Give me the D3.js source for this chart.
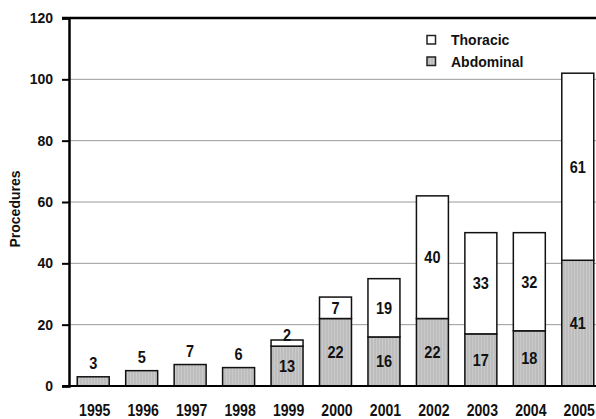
<!DOCTYPE html>
<html>
<head>
<meta charset="utf-8">
<script src="https://cdn.jsdelivr.net/npm/d3@7"></script>
<style>
  html, body { margin: 0; padding: 0; background: #fff; }
  svg { display: block; }
  .lbl { font-family: "Liberation Sans", Arial, sans-serif; font-weight: bold; }
  .reg { font-family: "Liberation Sans", Arial, sans-serif; font-weight: bold; }
</style>
</head>
<body>
<svg id="chart" width="596" height="419"></svg>
<script>
// Procedures per year, split by abdominal and thoracic
const years = ["1995", "1996", "1997", "1998", "1999", "2000", "2001", "2002", "2003", "2004", "2005"];
const abdominal = [3, 5, 7, 6, 13, 22, 16, 22, 17, 18, 41];
const thoracic = [0, 0, 0, 0, 2, 7, 19, 40, 33, 32, 61];
const yTicks = [0, 20, 40, 60, 80, 100, 120];
const seriesNames = ["Thoracic", "Abdominal"];

const svg = d3.select("#chart");
const W = 596, H = 419;

const x = d3.scaleBand().domain(years).range([69, 602]).paddingInner(0.34).paddingOuter(0.17);
const y = d3.scaleLinear().domain([0, 120]).range([386, 18]);

// condensed bold label: horizontally squeezed text anchored at (cx, by)
function narrowText(g, cx, by, str, size) {
  return g.append("text")
    .attr("class", "lbl").attr("font-size", size).attr("text-anchor", "middle").attr("fill", "#111")
    .attr("transform", `translate(${cx},${by}) scale(0.88,1)`).text(str);
}

// light vertical hatching for the grey segments
const defs = svg.append("defs");
const pat = defs.append("pattern").attr("id", "greyfill")
  .attr("patternUnits", "userSpaceOnUse").attr("width", 3).attr("height", 4);
pat.append("rect").attr("width", 3).attr("height", 4).attr("fill", "#bdbdbd");
pat.append("rect").attr("x", 1).attr("width", 1).attr("height", 4).attr("fill", "#cacaca");

// grid lines
svg.append("g").selectAll("line").data(yTicks.filter(d => d > 0 && d < 120)).join("line")
  .attr("x1", 69).attr("x2", W).attr("y1", d => y(d)).attr("y2", d => y(d))
  .attr("stroke", "#9a9a9a").attr("stroke-width", 1);

// top frame line
svg.append("line").attr("x1", 62).attr("x2", W).attr("y1", y(120)).attr("y2", y(120))
  .attr("stroke", "#000").attr("stroke-width", 2.5);

// stacked bars
const rows = years.map((yr, i) => ({ year: yr, ab: abdominal[i], th: thoracic[i] }));
const bars = svg.append("g");
rows.forEach(r => {
  bars.append("rect")
    .attr("x", x(r.year)).attr("width", x.bandwidth())
    .attr("y", y(r.ab)).attr("height", y(0) - y(r.ab))
    .attr("fill", "url(#greyfill)").attr("stroke", "#111").attr("stroke-width", 1.5);
  if (r.th > 0) {
    bars.append("rect")
      .attr("x", x(r.year)).attr("width", x.bandwidth())
      .attr("y", y(r.ab + r.th)).attr("height", y(r.ab) - y(r.ab + r.th))
      .attr("fill", "#fff").attr("stroke", "#111").attr("stroke-width", 1.5);
  }
});

// value labels
const vals = svg.append("g");
rows.forEach(r => {
  const cx = x(r.year) + x.bandwidth() / 2;
  if (r.th === 0) {
    narrowText(vals, cx, y(r.ab) - 8, r.ab, 16.5);
  } else {
    narrowText(vals, cx, (y(0) + y(r.ab)) / 2 + 6, r.ab, 16.5);
    const top = y(r.ab + r.th), bot = y(r.ab);
    if (bot - top < 12) {
      narrowText(vals, cx, top + 1, r.th, 16.5);
    } else {
      narrowText(vals, cx, (top + bot) / 2 + 6, r.th, 16.5);
    }
  }
});

// y axis
const yAxis = d3.axisLeft(y).tickValues(yTicks).tickSize(7).tickPadding(9).tickFormat(d3.format("d"));
const ga = svg.append("g").attr("transform", "translate(69,0)").call(yAxis);
ga.select(".domain").attr("stroke", "#000").attr("stroke-width", 2.5);
ga.selectAll(".tick line").attr("stroke", "#000").attr("stroke-width", 2);
ga.selectAll(".tick text").attr("class", "reg").attr("font-size", 14).attr("fill", "#111");

// x baseline
svg.append("line").attr("x1", 62).attr("x2", W).attr("y1", y(0)).attr("y2", y(0))
  .attr("stroke", "#000").attr("stroke-width", 2.2);

// x labels
const xl = svg.append("g");
years.forEach(d => narrowText(xl, x(d) + x.bandwidth() / 2 + 1.5, 415.5, d, 16));

// y axis title
svg.append("text").attr("class", "reg").attr("font-size", 14).attr("fill", "#111")
  .attr("text-anchor", "middle").attr("transform", "translate(19.5,209) rotate(-90)").text("Procedures");

// legend
const leg = svg.append("g");
seriesNames.forEach((name, i) => {
  const ly = 40 + i * 21.5;
  leg.append("rect").attr("x", 427).attr("y", ly - 4.5).attr("width", 8.5).attr("height", 8.5)
    .attr("fill", name === "Thoracic" ? "#fff" : "url(#greyfill)").attr("stroke", "#222").attr("stroke-width", 1.5);
  leg.append("text").attr("class", "reg").attr("font-size", 14).attr("fill", "#111")
    .attr("x", 451).attr("y", ly + 5).text(name);
});
</script>
</body>
</html>
